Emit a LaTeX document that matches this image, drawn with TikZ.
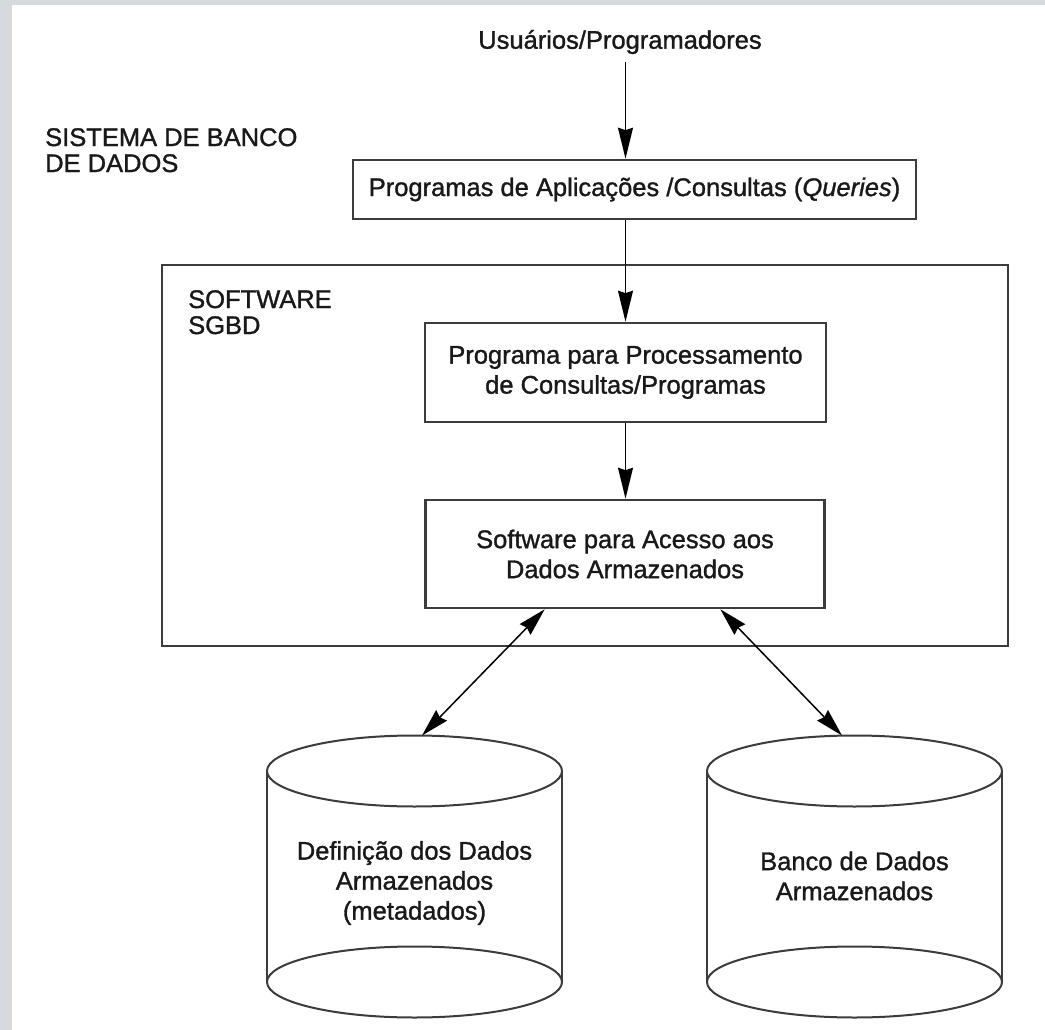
\documentclass[tikz,border=0pt]{standalone}
\usepackage{fontspec}
\setmainfont{Liberation Sans}
\newfontfamily\labelfont{Liberation Sans}[FakeBold=1.2,ItalicFeatures={FakeBold=1.2}]
\usetikzlibrary{arrows.meta,calc}
\definecolor{edgegray}{RGB}{214,217,221}
\definecolor{linegray}{RGB}{60,60,60}
\begin{document}
\begin{tikzpicture}[x=1pt,y=-1pt,
  every node/.style={font=\labelfont\fontsize{25.5}{30}\selectfont, text={black!90}},
  boxnode/.style={draw=linegray, line width=2.6pt, inner sep=0pt, align=center},
  flow/.style={line width=1.6pt, -{Stealth[length=31pt,width=15pt,inset=2.5pt]}},
  both/.style={line width=1.5pt, {Stealth[length=28pt,width=15pt,inset=2.5pt]}-{Stealth[length=28pt,width=15pt,inset=2.5pt]}},
  cylline/.style={draw=linegray, line width=2pt},
  sidelabel/.style={align=left, anchor=north west, inner sep=0pt, font=\labelfont\fontsize{25.5}{26}\selectfont}
]
\useasboundingbox (0,0) rectangle (1045,1030);
\fill[edgegray] (0,0) rectangle (1045,1030);
\fill[white] (12,5) rectangle (1045,1030);

\node[inner sep=0pt] (users) at (620,42) {Usuários/Programadores};
\node[sidelabel] (sbd) at (45,128) {SISTEMA DE BANCO\\DE DADOS};
\node[boxnode, minimum width=563pt, minimum height=59pt] (apps) at (634.5,189.5) {Programas de Aplicações /Consultas (\textit{Queries})};
\node[draw=linegray, line width=2.6pt, minimum width=846pt, minimum height=381pt, inner sep=0pt] (sgbd) at (585,455.5) {};
\node[sidelabel] (sgbdlabel) at (188,290) {SOFTWARE\\SGBD};
\node[boxnode, minimum width=401pt, minimum height=99pt] (proc) at (625.5,372.5) {Programa para Processamento\\de Consultas/Programas};
\node[boxnode, minimum width=399pt, minimum height=108pt] (access) at (625,554) {Software para Acesso aos\\Dados Armazenados};

% cylinders
\draw[cylline] (414.5,771) ellipse [x radius=147.5pt, y radius=35.5pt];
\draw[cylline] (414.5,982) ellipse [x radius=147.5pt, y radius=35.5pt];
\draw[cylline] (267,771) -- (267,982) (562,771) -- (562,982);
\draw[cylline] (854.5,771) ellipse [x radius=147.5pt, y radius=35.5pt];
\draw[cylline] (854.5,982) ellipse [x radius=147.5pt, y radius=35.5pt];
\draw[cylline] (707,771) -- (707,982) (1002,771) -- (1002,982);
\node[align=center, inner sep=0pt] (meta) at (414.5,883) {Definição dos Dados\\Armazenados\\(metadados)};
\node[align=center, inner sep=0pt] (db) at (854.5,876) {Banco de Dados\\Armazenados};
\coordinate (metatop) at (422,735.5);
\coordinate (dbtop) at (842,735.5);

% connectors
\draw[flow] ($(proc.north |- users.south)+(0,8)$) -- (proc.north |- apps.north);
\draw[flow] (proc.north |- apps.south) -- (proc.north);
\draw[flow] (proc.south) -- (proc.south |- access.north);
\draw[both] ($(access.south)!0.4!(access.south west)$) -- (metatop);
\draw[both] ($(access.south)!0.475!(access.south east)$) -- (dbtop);
\end{tikzpicture}
\end{document}
